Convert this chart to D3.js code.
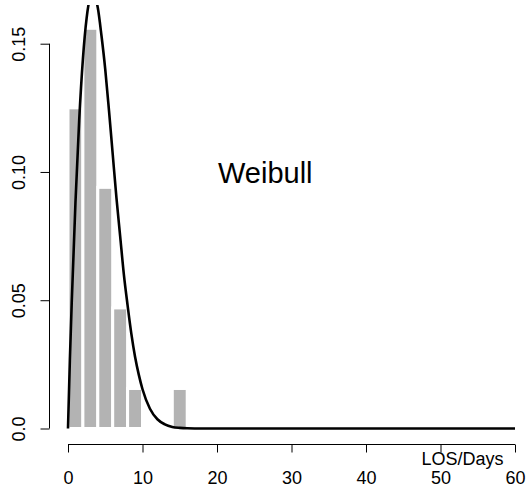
<!DOCTYPE html>
<html><head><meta charset="utf-8">
<script src="https://cdn.jsdelivr.net/npm/d3@7"></script>
<style>body{margin:0;background:#fff}svg{display:block}text{font-family:"Liberation Sans",Arial,sans-serif}</style>
</head><body>
<script>
// histogram bins (LOS in days) and density values
const binStarts = [0, 2, 4, 6, 8, 10, 12, 14];
const binWidth = 2;
const density = [0.125, 0.156, 0.094, 0.047, 0.0156, 0, 0, 0.0156];
// fitted Weibull density curve
const curveX = [0, 0.25, 0.5, 1, 1.5, 2, 2.5, 3, 3.5, 4, 4.5, 5, 5.5, 6, 6.5, 7, 7.5, 8, 8.5, 9, 9.5, 10, 11, 12, 13, 14, 15, 16, 18, 20, 60];
const curveY = [0, 0.0266, 0.049, 0.088, 0.120, 0.144, 0.160, 0.168, 0.169, 0.164, 0.153, 0.140, 0.124, 0.107, 0.090, 0.075, 0.060, 0.048, 0.037, 0.028, 0.021, 0.0153, 0.0077, 0.0036, 0.0016, 0.0006, 0.00024, 0.00008, 0, 0, 0];
const xTicks = [0, 10, 20, 30, 40, 50, 60];
const yTicks = [0, 0.05, 0.10, 0.15];
const yTickLabels = ["0.0", "0.05", "0.10", "0.15"];
const xLabel = "LOS/Days";
const title = "Weibull";

const W = 528, H = 494;
const svg = d3.select("body").append("svg").attr("width", W).attr("height", H);
const x = d3.scaleLinear().domain([0, 60]).range([68, 515]);
const y = d3.scaleLinear().domain([0, 0.15]).range([428.5, 43.7]);

svg.append("defs").append("clipPath").attr("id", "plotclip")
  .append("rect").attr("x", 50).attr("y", 5).attr("width", 483).attr("height", 440);

// bars
svg.append("g").selectAll("rect").data(binStarts.map((s, i) => ({s, v: density[i]})).filter(d => d.v > 0))
  .join("rect")
  .attr("x", d => x(d.s)).attr("width", d => x(d.s + binWidth) - x(d.s))
  .attr("y", d => y(d.v)).attr("height", d => y(0) - y(d.v))
  .attr("fill", "#b3b3b3").attr("stroke", "#ffffff").attr("stroke-width", 3);

// curve
const line = d3.line().x((d, i) => x(curveX[i])).y((d, i) => y(curveY[i])).curve(d3.curveMonotoneX);
svg.append("path").datum(curveX).attr("d", line).attr("clip-path", "url(#plotclip)")
  .attr("fill", "none").attr("stroke", "#000").attr("stroke-width", 2.6).attr("stroke-linejoin", "round");

// x axis
const xAxis = svg.append("g").attr("transform", "translate(0,444.5)")
  .call(d3.axisBottom(x).tickValues(xTicks).tickSize(8).tickPadding(19).tickFormat(d3.format("d")));
xAxis.select(".domain").attr("d", `M${x(0)},0H${x(60)}`).attr("stroke", "#000");
xAxis.selectAll(".tick line").attr("stroke", "#000");
xAxis.selectAll("text").attr("font-size", 18).attr("fill", "#000").attr("font-family", "Liberation Sans, Arial, sans-serif");

// y axis
const yAxis = svg.append("g").attr("transform", "translate(49.5,0)")
  .call(d3.axisLeft(y).tickValues(yTicks).tickSize(9).tickFormat((d, i) => yTickLabels[i]));
yAxis.select(".domain").attr("d", `M0,${y(0)}V${y(0.15)}`).attr("stroke", "#000");
yAxis.selectAll(".tick line").attr("stroke", "#000");
yAxis.selectAll("text").attr("font-size", 18).attr("fill", "#000")
  .attr("font-family", "Liberation Sans, Arial, sans-serif")
  .attr("x", null).attr("dy", null)
  .attr("text-anchor", "middle")
  .attr("transform", "translate(-24.5,0) rotate(-90)");

// labels
svg.append("text").attr("x", 421.5).attr("y", 465).attr("font-size", 18).attr("fill", "#000").text(xLabel);
svg.append("text").attr("x", 218).attr("y", 183).attr("font-size", 29).attr("fill", "#000").text(title);
</script>
</body></html>
